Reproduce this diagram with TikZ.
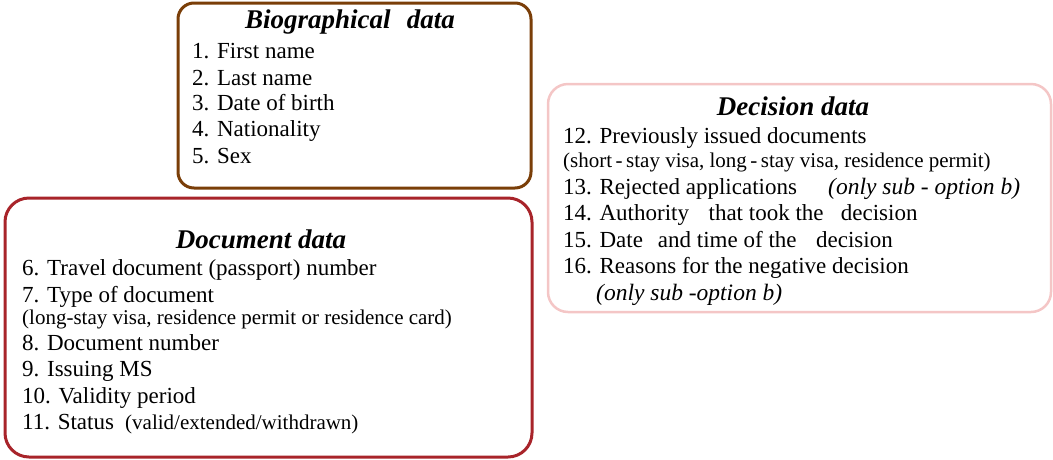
\documentclass[tikz,border=0pt]{standalone}
\usepackage{fontspec}
\setmainfont{Liberation Serif}
\definecolor{biocol}{RGB}{122,62,8}
\definecolor{doccol}{RGB}{168,36,42}
\definecolor{deccol}{RGB}{244,198,198}
\tikzset{
  frame/.style={draw, rounded corners=#1, line width=3pt, fill=white},
  item/.style={anchor=base west, inner sep=0pt, font=\fontsize{23}{26}\selectfont},
  note/.style={anchor=base west, inner sep=0pt, font=\fontsize{21}{24}\selectfont},
  remark/.style={anchor=base west, inner sep=0pt, font=\fontsize{23.5}{26}\selectfont\itshape},
  heading/.style={anchor=base, inner sep=0pt, font=\fontsize{27}{30}\selectfont\bfseries\itshape},
}
\begin{document}
\begin{tikzpicture}[x=1pt,y=-1pt]
\useasboundingbox (0,0) rectangle (1053,459);
% boxes
\node[frame=16pt, draw=biocol, minimum width=353pt, minimum height=185pt] (bio) at (354.5,95.5) {};
\node[frame=24pt, draw=doccol, minimum width=527pt, minimum height=259pt] (doc) at (268.5,327.5) {};
\node[frame=20pt, draw=deccol, line width=2.5pt, minimum width=503pt, minimum height=228pt] (dec) at (799.5,198) {};
% biographical
\node[heading] (biot) at (350,28) {Biographical\hspace{0.6em}data};
\node[item] (b1) at (192,58) {1. First name};
\node[item] (b2) at (192,85) {2. Last name};
\node[item] (b3) at (192,110) {3. Date of birth};
\node[item] (b4) at (192,136) {4. Nationality};
\node[item] (b5) at (192,163) {5. Sex};
% document
\node[heading] (doct) at (261,248) {Document data};
\node[item] (d6) at (22,275) {6. Travel document (passport) number};
\node[item] (d7) at (22,302) {7. Type of document};
\node[note] (d7n) at (22,324) {(long-stay visa, residence permit or residence card)};
\node[item] (d8) at (22,350) {8. Document number};
\node[item] (d9) at (22,376) {9. Issuing MS};
\node[item] (d10) at (22,403) {10. Validity period};
\node[item] (d11) at (22,429) {11. Status};
\node[note] (d11n) at (125,429) {(valid/extended/withdrawn)};
% decision
\node[heading] (dect) at (793,115) {Decision data};
\node[item] (c12) at (563,143) {12. Previously issued documents};
\node[note] (c12n) at (563,167) {(short\,-\,stay visa, long\,-\,stay visa, residence permit)};
\node[item] (c13) at (563,194) {13. Rejected applications};
\node[remark] (c13n) at (828,194) {(only sub - option b)};
\node[item] (c14) at (563,220) {14. Authority\hspace{0.6em} that took the\hspace{0.5em} decision};
\node[item] (c15) at (563,247) {15. Date\hspace{0.4em} and time of the\hspace{0.6em} decision};
\node[item] (c16) at (563,273) {16. Reasons for the negative decision};
\node[remark] (c16n) at (596,300) {(only sub -option b)};
\end{tikzpicture}
\end{document}
